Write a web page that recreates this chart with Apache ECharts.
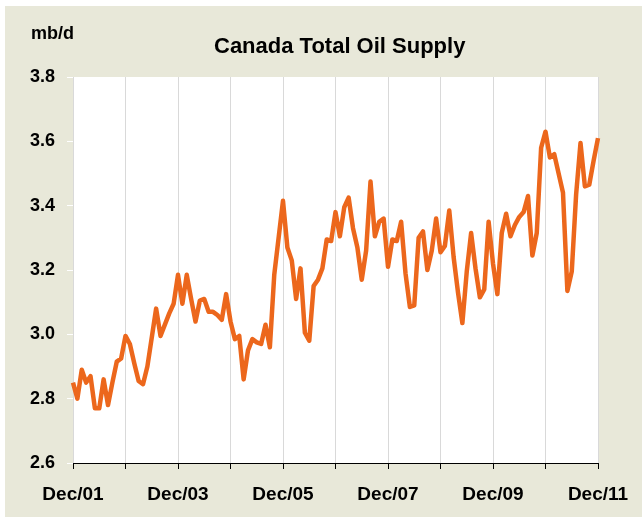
<!DOCTYPE html>
<html>
<head>
<meta charset="utf-8">
<script src="https://cdn.jsdelivr.net/npm/echarts@6/dist/echarts.min.js"></script>
<style>
  html, body { margin: 0; padding: 0; background: #fff; }
  #chart { width: 642px; height: 517px; }
</style>
</head>
<body>
<div id="chart"></div>
<script>
// monthly, Dec/01 .. Dec/11
const monthNames = ['Dec', 'Jan', 'Feb', 'Mar', 'Apr', 'May', 'Jun', 'Jul', 'Aug', 'Sep', 'Oct', 'Nov']
const startYear = 1
const endYear = 11

const categories = []
for (let y = startYear; y < endYear; y++) {
  monthNames.forEach((m, i) => {
    const yy = i === 0 ? y : y + 1
    categories.push(m + '/' + String(yy).padStart(2, '0'))
  })
}
categories.push('Dec/' + String(endYear).padStart(2, '0'))

// mb/d
const supply = [
  2.85, 2.80, 2.89, 2.85, 2.87, 2.77, 2.77, 2.86, 2.78, 2.85, 2.915, 2.925,
  2.995, 2.97, 2.91, 2.855, 2.845, 2.90, 2.99, 3.08, 2.995, 3.03, 3.065, 3.095,
  3.185, 3.095, 3.185, 3.11, 3.04, 3.105, 3.11, 3.07, 3.07, 3.06, 3.045, 3.125,
  3.04, 2.985, 2.995, 2.86, 2.95, 2.985, 2.975, 2.97, 3.03, 2.96, 3.185, 3.30,
  3.415, 3.27, 3.23, 3.11, 3.205, 3.005, 2.98, 3.15, 3.17, 3.205, 3.295, 3.29,
  3.38, 3.305, 3.395, 3.425, 3.33, 3.27, 3.17, 3.26, 3.475, 3.305, 3.35, 3.36,
  3.21, 3.295, 3.29, 3.35, 3.19, 3.085, 3.09, 3.30, 3.32, 3.20, 3.26, 3.36,
  3.255, 3.275, 3.385, 3.24, 3.13, 3.035, 3.195, 3.315, 3.205, 3.115, 3.14, 3.35,
  3.22, 3.125, 3.315, 3.375, 3.305, 3.34, 3.365, 3.38, 3.43, 3.245, 3.315, 3.58,
  3.63, 3.55, 3.56, 3.50, 3.44, 3.135, 3.195, 3.435, 3.595, 3.46, 3.465, 3.54,
  3.61
]

const fontFamily = '"Liberation Sans", Arial, sans-serif'
const chartInstance = echarts.init(document.getElementById('chart'))

const option = {
  backgroundColor: '#fff',
  animation: false,
  graphic: [
    {
      type: 'rect',
      z: -10,
      shape: { x: 5, y: 6, width: 637, height: 511 },
      style: { fill: '#e8e8d9' }
    },
    {
      type: 'text',
      left: 31,
      top: 25,
      style: {
        text: 'mb/d',
        fill: '#000',
        font: 'bold 18px ' + fontFamily
      }
    },
    {
      type: 'text',
      left: 214,
      top: 36,
      style: {
        text: 'Canada Total Oil Supply',
        fill: '#000',
        font: 'bold 22px ' + fontFamily
      }
    }
  ],
  grid: {
    left: 73,
    right: 44,
    top: 77,
    bottom: 54,
    show: true,
    backgroundColor: '#fff',
    borderWidth: 0
  },
  xAxis: {
    type: 'category',
    data: categories,
    boundaryGap: false,
    axisLine: { lineStyle: { color: '#000', width: 1 } },
    axisTick: { interval: 11, length: 6, lineStyle: { color: '#000' } },
    axisLabel: {
      interval: 23,
      margin: 22,
      color: '#000',
      fontSize: 19,
      fontWeight: 'bold',
      fontFamily: fontFamily
    },
    splitLine: { show: true, interval: 11, lineStyle: { color: '#d9d9d9', width: 1 } }
  },
  yAxis: {
    type: 'value',
    min: 2.6,
    max: 3.8,
    interval: 0.2,
    axisLine: { show: false },
    axisTick: { show: true, inside: false, length: 6, lineStyle: { color: '#fff' } },
    splitLine: { show: false },
    axisLabel: {
      margin: 18,
      color: '#000',
      fontSize: 18,
      fontWeight: 'bold',
      fontFamily: fontFamily,
      formatter: (v) => v.toFixed(1)
    }
  },
  series: [
    {
      name: 'Canada Total Oil Supply',
      type: 'line',
      data: supply,
      showSymbol: false,
      lineStyle: { color: '#ec671c', width: 4.5, join: 'round' },
      itemStyle: { color: '#ec671c' }
    }
  ]
}

chartInstance.setOption(option)
</script>
</body>
</html>
